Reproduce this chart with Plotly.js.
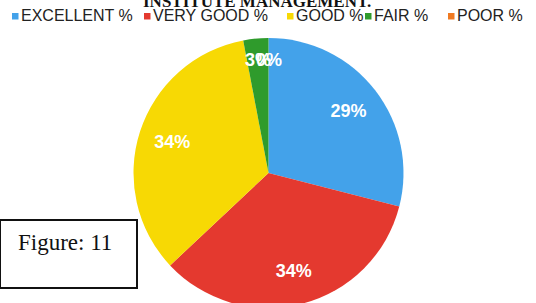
<!DOCTYPE html>
<html><head><meta charset="utf-8">
<script src="https://cdn.plot.ly/plotly-3.0.1.min.js"></script>
<style>html,body{margin:0;padding:0;overflow:hidden;background:#fff}</style>
</head><body><div id="chart"></div>
<script>
const categories = ["EXCELLENT %", "VERY GOOD %", "GOOD %", "FAIR %", "POOR %"];
const values = [29, 34, 34, 3, 0];
const colors = ["#43a2ea", "#e4392f", "#f7d904", "#2f9b2c", "#ef7a22"];
const titleText = "INSTITUTE MANAGEMENT.";
const figureLabel = "Figure: 11";

const W = 536, H = 312;
const px = x => x / W;
const py = y => 1 - y / H;

// pie geometry (pixels)
const cx = 268.5, cy = 173, R = 135;
const domain = {x: [px(cx - R), px(cx + R)], y: [py(cy + R), py(cy - R)]};

const total = values.reduce((a, b) => a + b, 0);
const pctText = values.map(v => Math.round(v / total * 100) + "%");
const isSmall = values.map(v => v / total < 0.06);

// legend layout (pixel positions of swatches)
const legendSwatchX = [12, 144, 287, 365, 448];
const annotations = [];
const shapes = [];
categories.forEach((c, i) => {
  shapes.push({type: "rect", xref: "paper", yref: "paper",
    x0: px(legendSwatchX[i]), x1: px(legendSwatchX[i] + 6.5),
    y0: py(19.5), y1: py(13), fillcolor: colors[i], line: {width: 0}});
  annotations.push({text: c, xref: "paper", yref: "paper",
    x: px(legendSwatchX[i] + 7), y: py(15.5), xanchor: "left", yanchor: "middle",
    showarrow: false, font: {family: "Liberation Sans, Arial", size: 16, color: "#222"}});
});
annotations.push({text: "<b>" + titleText + "</b>", xref: "paper", yref: "paper",
  x: px(257), y: py(2), xanchor: "center", yanchor: "middle", showarrow: false,
  font: {family: "Liberation Serif, Times New Roman", size: 17, color: "#111"}});
shapes.push({type: "rect", xref: "paper", yref: "paper",
  x0: px(0), x1: px(137), y0: py(288), y1: py(220),
  fillcolor: "#fff", line: {color: "#111", width: 2}});
annotations.push({text: figureLabel, xref: "paper", yref: "paper",
  x: px(65), y: py(242), xanchor: "center", yanchor: "middle", showarrow: false,
  font: {family: "Liberation Serif, Times New Roman", size: 23, color: "#111"}});

// labels of the thin slices, placed at their mid-angle near the rim
let cum = 0;
values.forEach((v, i) => {
  const mid = (cum + v / 2) / total * 2 * Math.PI;
  cum += v;
  if (!isSmall[i]) return;
  const r = 0.84 * R;
  annotations.push({text: "<b>" + pctText[i] + "</b>", xref: "paper", yref: "paper",
    x: px(cx + r * Math.sin(mid)), y: py(cy - r * Math.cos(mid)),
    xanchor: "center", yanchor: "middle", showarrow: false,
    font: {family: "Liberation Sans, Arial", size: 18, color: "#ffffff"}});
});

const slices = {
  type: "pie", labels: categories, values: values, sort: false,
  direction: "clockwise", rotation: 0,
  marker: {colors: colors, line: {width: 0}},
  textinfo: "none", hoverinfo: "none", showlegend: false, domain: domain
};
const labelRing = {
  type: "pie", labels: categories, values: values, sort: false,
  direction: "clockwise", rotation: 0, hole: 0.5,
  marker: {colors: values.map(() => "rgba(0,0,0,0)"), line: {width: 0}},
  texttemplate: isSmall.map(s => s ? "" : "<b>%{percent}</b>"),
  textposition: "inside", insidetextorientation: "horizontal",
  textfont: {family: "Liberation Sans, Arial", size: 18, color: "#ffffff"},
  hoverinfo: "none", showlegend: false, domain: domain
};

Plotly.newPlot("chart", [slices, labelRing], {
  width: W, height: H, margin: {l: 0, r: 0, t: 0, b: 0},
  paper_bgcolor: "#fff", plot_bgcolor: "#fff",
  showlegend: false, annotations: annotations, shapes: shapes
}, {staticPlot: true});
</script></body></html>
